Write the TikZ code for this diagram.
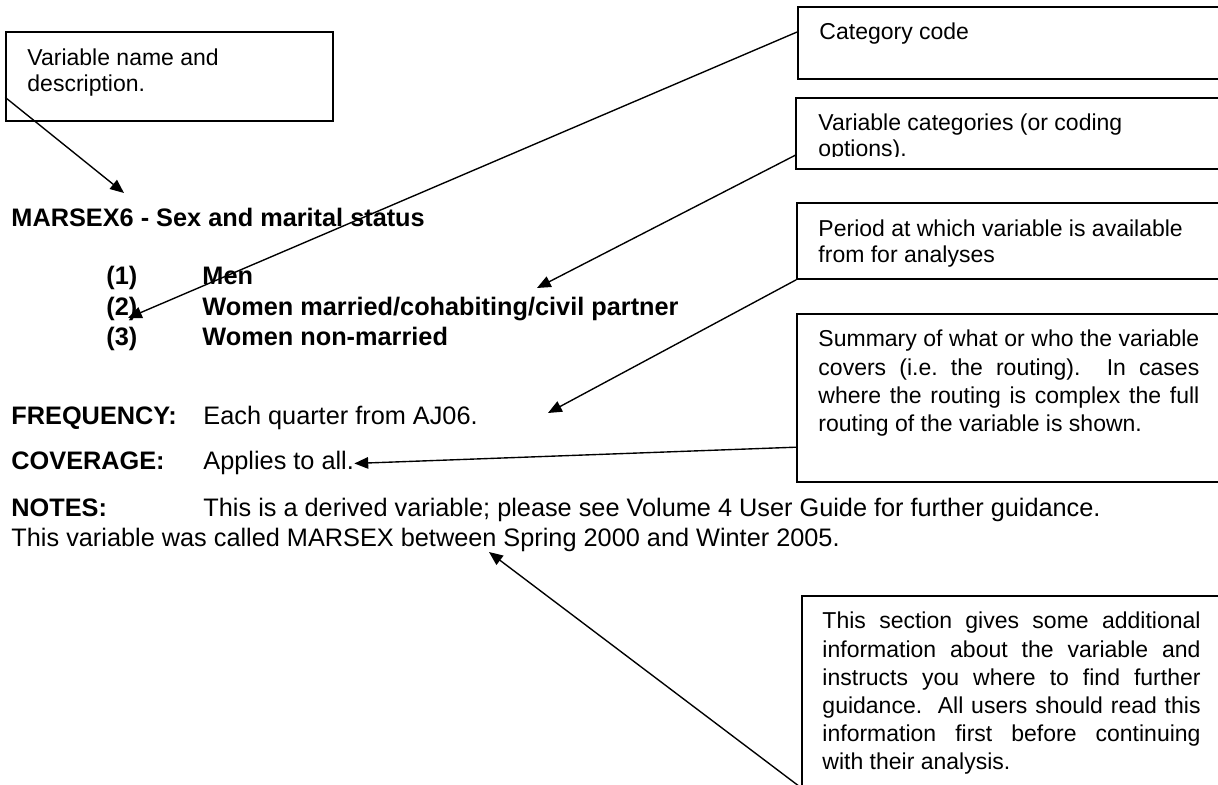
\documentclass[tikz,border=0pt]{standalone}
\usepackage{fontspec}
\setmainfont{Liberation Sans}
\usetikzlibrary{arrows.meta, positioning, calc, fit}

\begin{document}
\begin{tikzpicture}[
    x=0.4348pt, y=-0.4348pt,
    callout/.style={rectangle, draw, line width=0.7pt, inner sep=0pt},
    boxtext/.style={font=\fontsize{10pt}{11.3pt}\selectfont, inner sep=0pt, anchor=base west, text width=170pt, align=flush left},
    parbox/.style={boxtext, align=justify, font=\fontsize{10pt}{12.2pt}\selectfont},
    bodytext/.style={font=\fontsize{11pt}{13.2pt}\selectfont, inner sep=0pt, anchor=base west},
    heading/.style={bodytext, font=\fontsize{11pt}{13.2pt}\selectfont\bfseries},
    pointer/.style={-{Triangle[length=6pt, width=5pt]}, line width=0.6pt}
]
    \useasboundingbox (0,0) rectangle (1218,785);
    \clip (0,0) rectangle (1218,785);

    \node [heading] (title) at (11,227) {MARSEX6 - Sex and marital status};
    \node [heading] (code1) at (106,285) {(1)};
    \node [heading] (lab1) at (202,285) {Men};
    \node [heading] (code2) at (106,315.5) {(2)};
    \node [heading] (lab2) at (202,315.5) {Women married/cohabiting/civil partner};
    \node [heading] (code3) at (106,346) {(3)};
    \node [heading] (lab3) at (202,346) {Women non-married};

    \node [heading] (freqkey) at (11,425) {FREQUENCY:};
    \node [bodytext] (freq) at (203,425) {Each quarter from AJ06.};
    \node [heading] (covkey) at (11,470) {COVERAGE:};
    \node [bodytext] (cov) at (203,470) {Applies to all.};
    \node [heading] (noteskey) at (11,517) {NOTES:};
    \node [bodytext] (notes) at (203,517) {This is a derived variable; please see Volume 4 User Guide for further guidance.};
    \node [bodytext] (notes2) at (11,547) {This variable was called MARSEX between Spring 2000 and Winter 2005.};

    \node [callout, fit={(6,32) (333,121)}] (namebox) {};
    \node [boxtext, text width=130pt] (nametext) at (27,66) {Variable name and\\description.};

    \node [callout, fit={(798,7) (1230,79)}] (catbox) {};
    \node [boxtext] (cattext) at (819,40) {Category code};

    \node [callout, fit={(796,98) (1230,169)}] (varbox) {};
    \begin{scope}
        \clip (796,98) rectangle (1230,156.5);
        \node [boxtext] (vartext) at (818,131) {Variable categories (or coding\\options).};
    \end{scope}

    \node [callout, fit={(797,203) (1230,279)}] (perbox) {};
    \node [boxtext] (pertext) at (818,237) {Period at which variable is available\\from for analyses};

    \node [callout, fit={(797,314) (1230,482)}] (sumbox) {};
    \node [parbox, text width=165.6pt, font=\fontsize{10pt}{12.3pt}\selectfont] (sumtext) at (818,347)
        {Summary of what or who the variable\linebreak covers (i.e.\ the routing).\ \ In cases\linebreak where the routing is complex the full\linebreak routing of the variable is shown.};

    \node [callout, fit={(802,596) (1230,787)}] (secbox) {};
    \node [parbox, text width=164.4pt] (sectext) at (822,629)
        {This section gives some additional\linebreak information about the variable and\linebreak instructs you where to find further\linebreak guidance.\ \ All users should read this\linebreak information first before continuing\linebreak with their analysis.};

    \coordinate (nametip) at (124,193);
    \coordinate (cattip) at (128,318);
    \coordinate (vartip) at (537,288);
    \coordinate (pertip) at (548,413);
    \coordinate (sectip) at (489,552);

    \draw [pointer] ($(namebox.north west)!0.73!(namebox.south west)$) -- (nametip);
    \draw [pointer] ($(catbox.north west)!0.35!(catbox.south west)$) -- (cattip);
    \draw [pointer] ($(varbox.north west)!0.8!(varbox.south west)$) -- (vartip);
    \draw [pointer] (perbox.south west) -- (pertip);
    \draw [pointer] ($(sumbox.north west)!0.79!(sumbox.south west)$) -- (cov.east);
    \draw [pointer] (secbox.south west) -- (sectip);
\end{tikzpicture}
\end{document}
